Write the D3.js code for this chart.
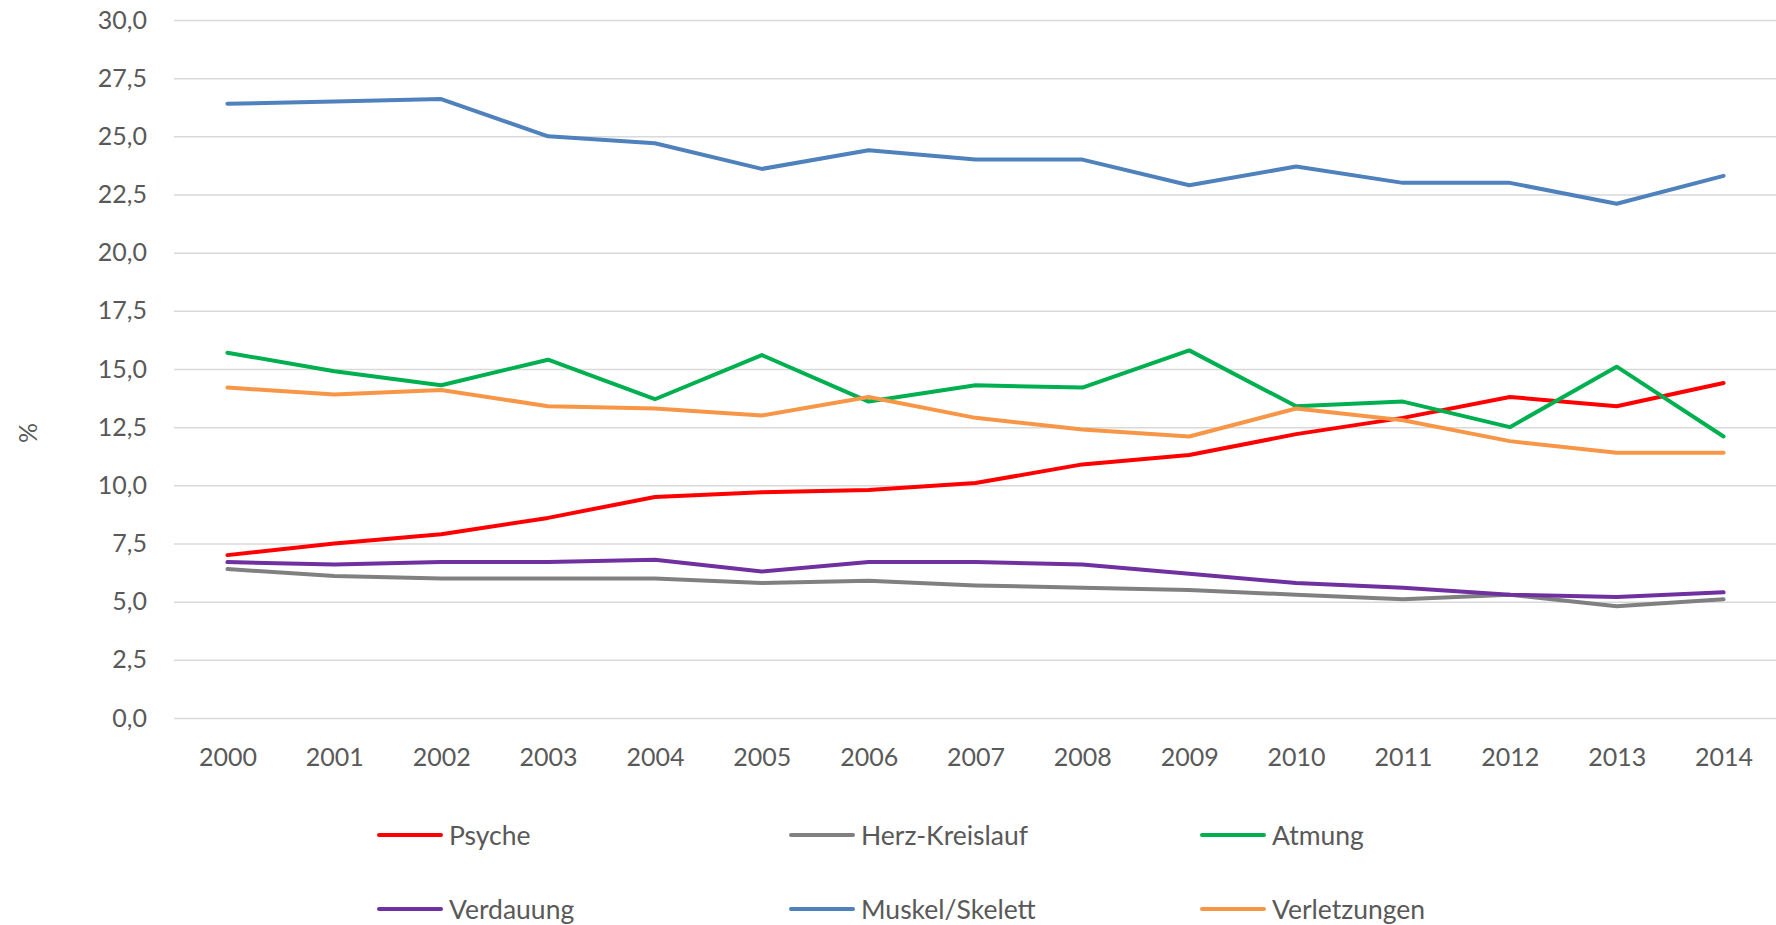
<!DOCTYPE html>
<html>
<head>
<meta charset="utf-8">
<script src="https://cdn.jsdelivr.net/npm/d3@7"></script>
<style>
  html, body { margin: 0; padding: 0; background: #fff; }
  svg text { font-family: Lato, "Open Sans", sans-serif; fill: #595959; }
</style>
</head>
<body>
<svg id="chart" width="1776" height="925"></svg>
<script>
const years = ['2000', '2001', '2002', '2003', '2004', '2005', '2006', '2007',
  '2008', '2009', '2010', '2011', '2012', '2013', '2014'];

const psyche = [7.0, 7.5, 7.9, 8.6, 9.5, 9.7, 9.8, 10.1, 10.9, 11.3, 12.2, 12.9, 13.8, 13.4, 14.4];
const herzKreislauf = [6.4, 6.1, 6.0, 6.0, 6.0, 5.8, 5.9, 5.7, 5.6, 5.5, 5.3, 5.1, 5.3, 4.8, 5.1];
const atmung = [15.7, 14.9, 14.3, 15.4, 13.7, 15.6, 13.6, 14.3, 14.2, 15.8, 13.4, 13.6, 12.5, 15.1, 12.1];
const verdauung = [6.7, 6.6, 6.7, 6.7, 6.8, 6.3, 6.7, 6.7, 6.6, 6.2, 5.8, 5.6, 5.3, 5.2, 5.4];
const muskelSkelett = [26.4, 26.5, 26.6, 25.0, 24.7, 23.6, 24.4, 24.0, 24.0, 22.9, 23.7, 23.0, 23.0, 22.1, 23.3];
const verletzungen = [14.2, 13.9, 14.1, 13.4, 13.3, 13.0, 13.8, 12.9, 12.4, 12.1, 13.3, 12.8, 11.9, 11.4, 11.4];

const yTicks = [0, 2.5, 5, 7.5, 10, 12.5, 15, 17.5, 20, 22.5, 25, 27.5, 30];

const series = [
  { name: 'Psyche', values: psyche, color: '#FF0000' },
  { name: 'Herz-Kreislauf', values: herzKreislauf, color: '#808080' },
  { name: 'Atmung', values: atmung, color: '#00B050' },
  { name: 'Verdauung', values: verdauung, color: '#7030A0' },
  { name: 'Muskel/Skelett', values: muskelSkelett, color: '#4F81BD' },
  { name: 'Verletzungen', values: verletzungen, color: '#F79646' }
];

const plot = { left: 174, right: 1777, top: 20, bottom: 718 };

const svg = d3.select('#chart');

const x = d3.scalePoint()
  .domain(years)
  .range([plot.left, plot.right])
  .padding(0.5);

const y = d3.scaleLinear()
  .domain([0, 30])
  .range([plot.bottom, plot.top]);

const fmt = v => d3.format('.1f')(v).replace('.', ',');

// horizontal grid lines
svg.append('g')
  .attr('class', 'grid')
  .attr('transform', `translate(${plot.left},0)`)
  .call(d3.axisRight(y).tickValues(yTicks).tickSize(plot.right - plot.left).tickFormat(''))
  .call(g => g.select('.domain').remove())
  .call(g => g.selectAll('line').attr('stroke', '#D9D9D9').attr('stroke-width', 1.5));

// y labels
svg.append('g')
  .attr('transform', 'translate(147,0)')
  .call(d3.axisLeft(y).tickValues(yTicks).tickSize(0).tickPadding(0).tickFormat(fmt))
  .call(g => g.select('.domain').remove())
  .call(g => g.selectAll('text')
    .attr('font-size', 25)
    .attr('fill', '#595959')
    .style('font-family', 'Lato, "Open Sans", sans-serif'));

// x labels
svg.append('g')
  .attr('transform', `translate(0,${plot.bottom})`)
  .call(d3.axisBottom(x).tickSize(0).tickPadding(30))
  .call(g => g.select('.domain').remove())
  .call(g => g.selectAll('text')
    .attr('font-size', 25)
    .attr('fill', '#595959')
    .style('font-family', 'Lato, "Open Sans", sans-serif'));

// axis title
svg.append('text')
  .attr('transform', 'translate(27,433) rotate(-90)')
  .attr('text-anchor', 'middle')
  .attr('dominant-baseline', 'central')
  .attr('font-size', 25)
  .text('%');

const line = d3.line()
  .x((d, i) => x(years[i]))
  .y(d => y(d));

svg.append('g')
  .selectAll('path')
  .data(series)
  .join('path')
  .attr('d', d => line(d.values))
  .attr('fill', 'none')
  .attr('stroke', d => d.color)
  .attr('stroke-width', 4)
  .attr('stroke-linejoin', 'round')
  .attr('stroke-linecap', 'round');

// legend, 3 columns x 2 rows
const legendCols = [379, 791, 1202];
const legendRows = [835, 909];

const legend = svg.append('g')
  .selectAll('g')
  .data(series)
  .join('g')
  .attr('transform', (d, i) => `translate(${legendCols[i % 3]},${legendRows[Math.floor(i / 3)]})`);

legend.append('line')
  .attr('x1', 0).attr('x2', 62)
  .attr('stroke', d => d.color)
  .attr('stroke-width', 4)
  .attr('stroke-linecap', 'round');

legend.append('text')
  .attr('x', 70)
  .attr('dominant-baseline', 'central')
  .attr('font-size', 26.5)
  .text(d => d.name);
</script>
</body>
</html>
